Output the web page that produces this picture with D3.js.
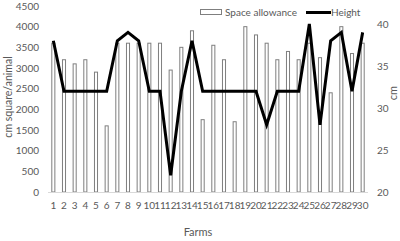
<!DOCTYPE html>
<html>
<head>
<meta charset="utf-8">
<script src="https://cdn.jsdelivr.net/npm/d3@7"></script>
<style>
  body { margin: 0; background: #fff; }
  svg text { font-family: Lato, "Open Sans", sans-serif; fill: #595959; }
</style>
</head>
<body>
<svg width="400" height="241"></svg>
<script>
const farms = d3.range(1, 31);
const space = [3600, 3200, 3100, 3200, 2900, 1600, 3600, 3600, 3600, 3600,
               3600, 2950, 3500, 3900, 1750, 3550, 3200, 1700, 4000, 3800,
               3600, 3200, 3400, 3200, 3600, 3250, 2400, 4000, 3350, 3600];
const height = [38, 32, 32, 32, 32, 32, 38, 39, 38, 32,
                32, 22, 32, 38, 32, 32, 32, 32, 32, 32,
                28, 32, 32, 32, 40, 28, 38, 39, 32, 39];
const leftTicks = [0, 500, 1000, 1500, 2000, 2500, 3000, 3500, 4000, 4500];
const rightTicks = [20, 25, 30, 35, 40];

const svg = d3.select("svg"),
      margin = {top: 6, left: 48, right: 368, bottom: 192};

const x = d3.scaleBand()
            .domain(farms)
            .range([margin.left, margin.right])
            .paddingInner(0.62)
            .paddingOuter(0.31);
const y = d3.scaleLinear()
            .domain([0, 4500])
            .range([margin.bottom, margin.top]);
const y2 = d3.scaleLinear()
            .domain([20, 42.14])
            .range([margin.bottom, margin.top]);

// bars
svg.append("g").selectAll("rect")
  .data(farms)
  .join("rect")
    .attr("x", d => x(d) + 0.5)
    .attr("y", (d, i) => y(space[i]))
    .attr("width", x.bandwidth() - 1)
    .attr("height", (d, i) => y(0) - y(space[i]))
    .attr("fill", "#fff")
    .attr("stroke", "#7f7f7f")
    .attr("stroke-width", 1);

// x axis line
svg.append("line")
  .attr("x1", margin.left).attr("x2", margin.right)
  .attr("y1", y(0) + 0.5).attr("y2", y(0) + 0.5)
  .attr("stroke", "#d9d9d9");

// line
const line = d3.line()
  .x((d, i) => x(farms[i]) + x.bandwidth() / 2)
  .y(d => y2(d));
svg.append("path")
  .datum(height)
  .attr("d", line)
  .attr("fill", "none")
  .attr("stroke", "#000")
  .attr("stroke-width", 3)
  .attr("stroke-linejoin", "miter");

// axes
const fs = "10px";
const gl = svg.append("g")
  .attr("transform", "translate(" + (margin.left - 5) + ",0)")
  .call(d3.axisLeft(y).tickValues(leftTicks).tickFormat(d3.format("d")).tickSize(0).tickPadding(4));
const gr = svg.append("g")
  .attr("transform", "translate(" + (margin.right + 5) + ",0)")
  .call(d3.axisRight(y2).tickValues(rightTicks).tickSize(0).tickPadding(4));
const gb = svg.append("g")
  .attr("transform", "translate(0," + (margin.bottom + 5) + ")")
  .call(d3.axisBottom(x).tickSize(0).tickPadding(5));
[gl, gr, gb].forEach(g => {
  g.select(".domain").remove();
  g.selectAll("text").style("font-size", fs).attr("fill", "#595959");
});

// axis titles
svg.append("text")
  .attr("transform", "translate(12,97) rotate(-90)")
  .attr("text-anchor", "middle")
  .style("font-size", "10.5px")
  .text("cm square/animal");
svg.append("text")
  .attr("transform", "translate(397,93) rotate(-90)")
  .attr("text-anchor", "middle")
  .style("font-size", "11px")
  .text("cm");
svg.append("text")
  .attr("x", 198).attr("y", 236)
  .attr("text-anchor", "middle")
  .style("font-size", "11px")
  .text("Farms");

// legend
svg.append("rect")
  .attr("x", 200.5).attr("y", 9.5).attr("width", 21).attr("height", 5)
  .attr("fill", "#fff").attr("stroke", "#7f7f7f");
svg.append("text")
  .attr("x", 225).attr("y", 16)
  .style("font-size", "10px")
  .text("Space allowance");
svg.append("line")
  .attr("x1", 306).attr("x2", 331).attr("y1", 12.5).attr("y2", 12.5)
  .attr("stroke", "#000").attr("stroke-width", 3);
svg.append("text")
  .attr("x", 331).attr("y", 16)
  .style("font-size", "10px")
  .text("Height");
</script>
</body>
</html>
